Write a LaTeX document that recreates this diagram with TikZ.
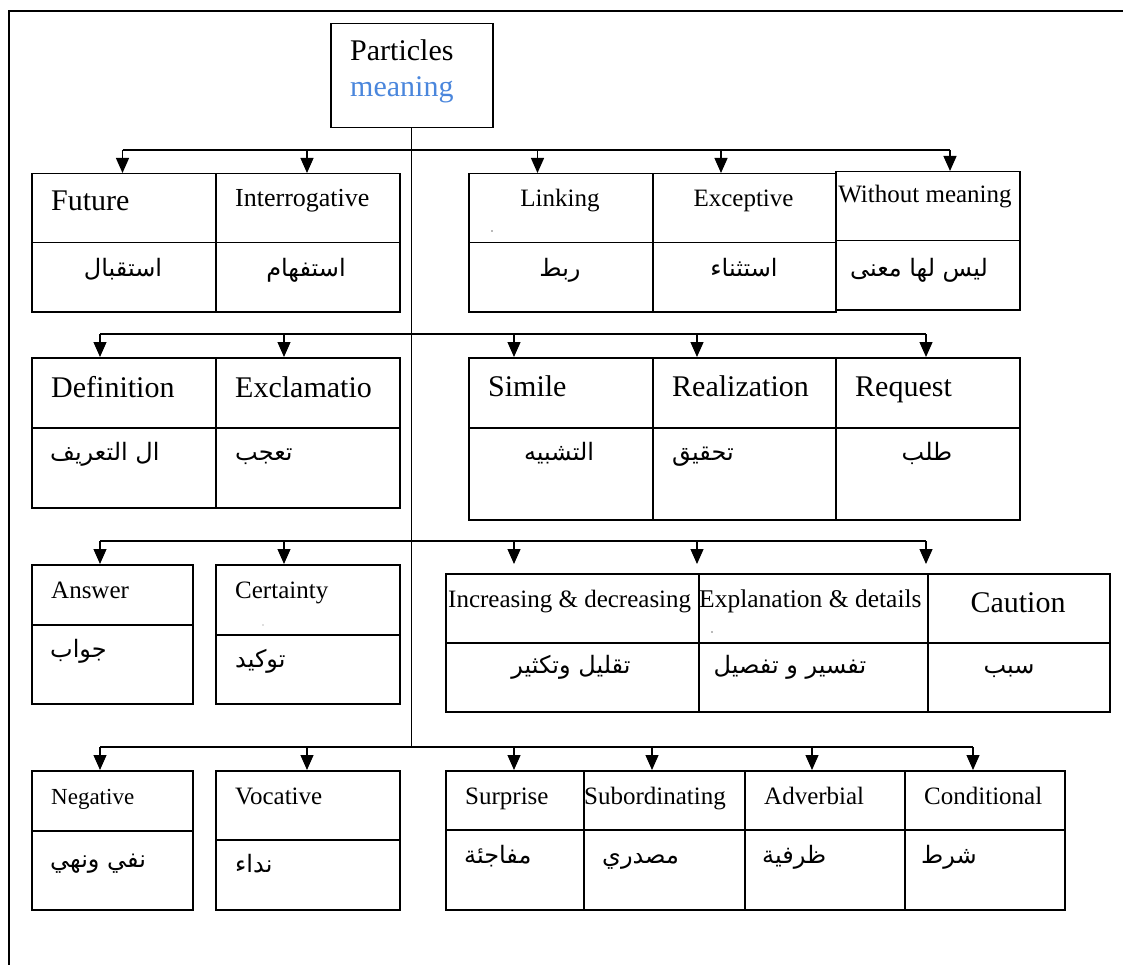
\documentclass[tikz,border=0pt]{standalone}
\usepackage{fontspec}
\setmainfont{Liberation Serif}
\newfontfamily\arfont[Script=Arabic]{DejaVu Sans}
\TeXXeTstate=1
\usetikzlibrary{arrows.meta}
\definecolor{rootblue}{RGB}{74,134,220}

% one table cell: name, left x, top y, width, height
\newcommand\cellnode[5]{%
  \node[cellbox, minimum width=#4pt, minimum height=#5pt] (#1) at (#2,#3) {};}

\begin{document}
\begin{tikzpicture}[x=1pt,y=-1pt,
  cellbox/.style={draw, line width=1.5pt, inner sep=0pt, anchor=north west},
  link/.style={line width=1.2pt},
  arr/.style={line width=1.2pt, -{Triangle[length=15pt,width=13pt]}},
  en/.style={inner sep=0pt, font=\fontsize{#1}{#1}\selectfont},
  ar/.style={inner sep=0pt, font=\arfont\fontsize{#1}{#1}\selectfont},
  speck/.style={fill=black!55, draw=none}]
\useasboundingbox (0,0) rectangle (1123,965);

% frame (top and left edges)
\draw[line width=2pt] (1123,11) -- (9,11) -- (9,965);

% root
\node[cellbox, minimum width=162pt, minimum height=104pt] (root) at (330,23) {};
\node[en=30, anchor=base west] (rootA) at (350,61) {Particles};
\node[en=30, anchor=base west, text=rootblue] (rootB) at (350,97) {meaning};

% ---------- row 1 ----------
\cellnode{fut}{31}{173}{184}{69}   \cellnode{futA}{31}{242}{184}{69}
\cellnode{intr}{215}{173}{184}{69} \cellnode{intrA}{215}{242}{184}{69}
\cellnode{lnk}{468}{173}{184}{69}  \cellnode{lnkA}{468}{242}{184}{69}
\cellnode{exc}{652}{173}{183}{69}  \cellnode{excA}{652}{242}{183}{69}
\cellnode{wom}{835}{171}{184}{69}  \cellnode{womA}{835}{240}{184}{69}

\node[en=30, anchor=base west] (tFut) at (51,211) {Future};
\node[en=26, anchor=base west] (tIntr) at (235,207) {Interrogative};
\node[en=25, anchor=base] (tLnk) at (560,207) {Linking};
\node[en=25, anchor=base] (tExc) at (743.5,207) {Exceptive};
\node[en=25, anchor=base] (tWom) at (925,203) {Without meaning};
\node[ar=24, anchor=base] (aFut) at (123,277) {\beginR استقبال\endR};
\node[ar=24, anchor=base] (aIntr) at (306,277) {\beginR استفهام\endR};
\node[ar=24, anchor=base] (aLnk) at (560,277) {\beginR ربط\endR};
\node[ar=24, anchor=base] (aExc) at (744,277) {\beginR استثناء\endR};
\node[ar=24, anchor=base] (aWom) at (919,277) {\beginR ليس لها معنى\endR};

% ---------- row 2 ----------
\cellnode{def}{31}{357}{184}{70}   \cellnode{defA}{31}{427}{184}{80}
\cellnode{excl}{215}{357}{184}{70} \cellnode{exclA}{215}{427}{184}{80}
\cellnode{sim}{468}{357}{184}{70}  \cellnode{simA}{468}{427}{184}{92}
\cellnode{real}{652}{357}{183}{70} \cellnode{realA}{652}{427}{183}{92}
\cellnode{req}{835}{357}{184}{70}  \cellnode{reqA}{835}{427}{184}{92}

\node[en=30, anchor=base west] (tDef) at (51,397) {Definition};
\node[en=30, anchor=base west] (tExcl) at (235,397) {Exclamatio};
\node[en=30, anchor=base west] (tSim) at (488,396) {Simile};
\node[en=30, anchor=base west] (tReal) at (672,396) {Realization};
\node[en=30, anchor=base west] (tReq) at (855,396) {Request};
\node[ar=24, anchor=base west] (aDef) at (50,460) {\beginR ال التعريف\endR};
\node[ar=24, anchor=base west] (aExcl) at (235,460) {\beginR تعجب\endR};
\node[ar=24, anchor=base] (aSim) at (559,460) {\beginR التشبيه\endR};
\node[ar=24, anchor=base west] (aReal) at (672,460) {\beginR تحقيق\endR};
\node[ar=24, anchor=base] (aReq) at (927,460) {\beginR طلب\endR};

% ---------- row 3 ----------
\cellnode{ans}{31}{564}{161}{60}   \cellnode{ansA}{31}{624}{161}{79}
\cellnode{cert}{215}{564}{184}{70} \cellnode{certA}{215}{634}{184}{69}
\cellnode{inc}{445}{573}{253}{69}  \cellnode{incA}{445}{642}{253}{69}
\cellnode{expl}{698}{573}{229}{69} \cellnode{explA}{698}{642}{229}{69}
\cellnode{caut}{927}{573}{182}{69} \cellnode{cautA}{927}{642}{182}{69}

\node[en=25, anchor=base west] (tAns) at (51,598) {Answer};
\node[en=25, anchor=base west] (tCert) at (235,598) {Certainty};
\node[en=25, anchor=base west] (tInc) at (448,607) {Increasing \& decreasing};
\node[en=25.5, anchor=base west] (tExpl) at (699,607) {Explanation \& details};
\node[en=30, anchor=base] (tCaut) at (1018,612) {Caution};
\node[ar=24, anchor=base west] (aAns) at (50,657) {\beginR جواب\endR};
\node[ar=24, anchor=base west] (aCert) at (235,667) {\beginR توكيد\endR};
\node[ar=24, anchor=base] (aInc) at (571,673) {\beginR تقليل وتكثير\endR};
\node[ar=24, anchor=base] (aExpl) at (790,673) {\beginR تفسير و تفصيل\endR};
\node[ar=24, anchor=base] (aCaut) at (1009,673) {\beginR سبب\endR};

% ---------- row 4 ----------
\cellnode{neg}{31}{770}{161}{60}   \cellnode{negA}{31}{830}{161}{79}
\cellnode{voc}{215}{770}{184}{69}  \cellnode{vocA}{215}{839}{184}{70}
\cellnode{sur}{445}{770}{138}{59}  \cellnode{surA}{445}{829}{138}{80}
\cellnode{sub}{583}{770}{161}{59}  \cellnode{subA}{583}{829}{161}{80}
\cellnode{adv}{744}{770}{160}{59}  \cellnode{advA}{744}{829}{160}{80}
\cellnode{cond}{904}{770}{160}{59} \cellnode{condA}{904}{829}{160}{80}

\node[en=23, anchor=base west] (tNeg) at (51,804) {Negative};
\node[en=25, anchor=base west] (tVoc) at (235,804) {Vocative};
\node[en=25, anchor=base west] (tSur) at (465,804) {Surprise};
\node[en=25, anchor=base west] (tSub) at (584,804) {Subordinating};
\node[en=25, anchor=base west] (tAdv) at (764,804) {Adverbial};
\node[en=25, anchor=base west] (tCond) at (924,804) {Conditional};
\node[ar=24, anchor=base west] (aNeg) at (50,867) {\beginR نفي ونهي\endR};
\node[ar=24, anchor=base west] (aVoc) at (235,872) {\beginR نداء\endR};
\node[ar=24, anchor=base west] (aSur) at (464,863) {\beginR مفاجئة\endR};
\node[ar=24, anchor=base west] (aSub) at (602,863) {\beginR مصدري\endR};
\node[ar=24, anchor=base west] (aAdv) at (762,863) {\beginR ظرفية\endR};
\node[ar=24, anchor=base west] (aCond) at (921,863) {\beginR شرط\endR};

% ---------- connectors ----------
\coordinate (trunkEnd) at (root.south |- 0,747);
\draw[link] (root.south) -- (trunkEnd);

% bus points
\coordinate (b1a) at (122.5,150); \coordinate (b1b) at (307,150);
\coordinate (b1c) at (537.5,150); \coordinate (b1d) at (721,150);
\coordinate (b1e) at (950,150);
\coordinate (b2a) at (100,334); \coordinate (b2b) at (284,334);
\coordinate (b2c) at (514,334); \coordinate (b2d) at (697,334);
\coordinate (b2e) at (926,334);
\coordinate (b3a) at (100,541); \coordinate (b3b) at (284,541);
\coordinate (b3c) at (514,541); \coordinate (b3d) at (697,541);
\coordinate (b3e) at (926,541);
\coordinate (b4a) at (100,747); \coordinate (b4b) at (307,747);
\coordinate (b4c) at (514,747); \coordinate (b4d) at (652,747);
\coordinate (b4e) at (812,747); \coordinate (b4f) at (973,747);

\draw[link] (b1a) -- (b1e);
\draw[link] (b2a) -- (b2e);
\draw[link] (b3a) -- (b3e);
\draw[link] (b4a) -- (b4f);

\draw[arr] (b1a) -- (b1a |- fut.north);
\draw[arr] (b1b) -- (b1b |- intr.north);
\draw[arr] (b1c) -- (b1c |- lnk.north);
\draw[arr] (b1d) -- (b1d |- exc.north);
\draw[arr] (b1e) -- (b1e |- wom.north);

\draw[arr] (b2a) -- (b2a |- def.north);
\draw[arr] (b2b) -- (b2b |- excl.north);
\draw[arr] (b2c) -- (b2c |- sim.north);
\draw[arr] (b2d) -- (b2d |- real.north);
\draw[arr] (b2e) -- (b2e |- req.north);

\draw[arr] (b3a) -- (b3a |- ans.north);
\draw[arr] (b3b) -- (b3b |- cert.north);
\draw[arr] (b3c) -- (b3c |- ans.north);
\draw[arr] (b3d) -- (b3d |- ans.north);
\draw[arr] (b3e) -- (b3e |- ans.north);

\draw[arr] (b4a) -- (b4a |- neg.north);
\draw[arr] (b4b) -- (b4b |- voc.north);
\draw[arr] (b4c) -- (b4c |- sur.north);
\draw[arr] (b4d) -- (b4d |- sub.north);
\draw[arr] (b4e) -- (b4e |- adv.north);
\draw[arr] (b4f) -- (b4f |- cond.north);

% small specks inside three cells
\fill[speck] (492,231) circle (0.8);
\fill[speck] (263,625) circle (0.6);
\fill[speck] (712,632) circle (0.9);
\end{tikzpicture}
\end{document}
